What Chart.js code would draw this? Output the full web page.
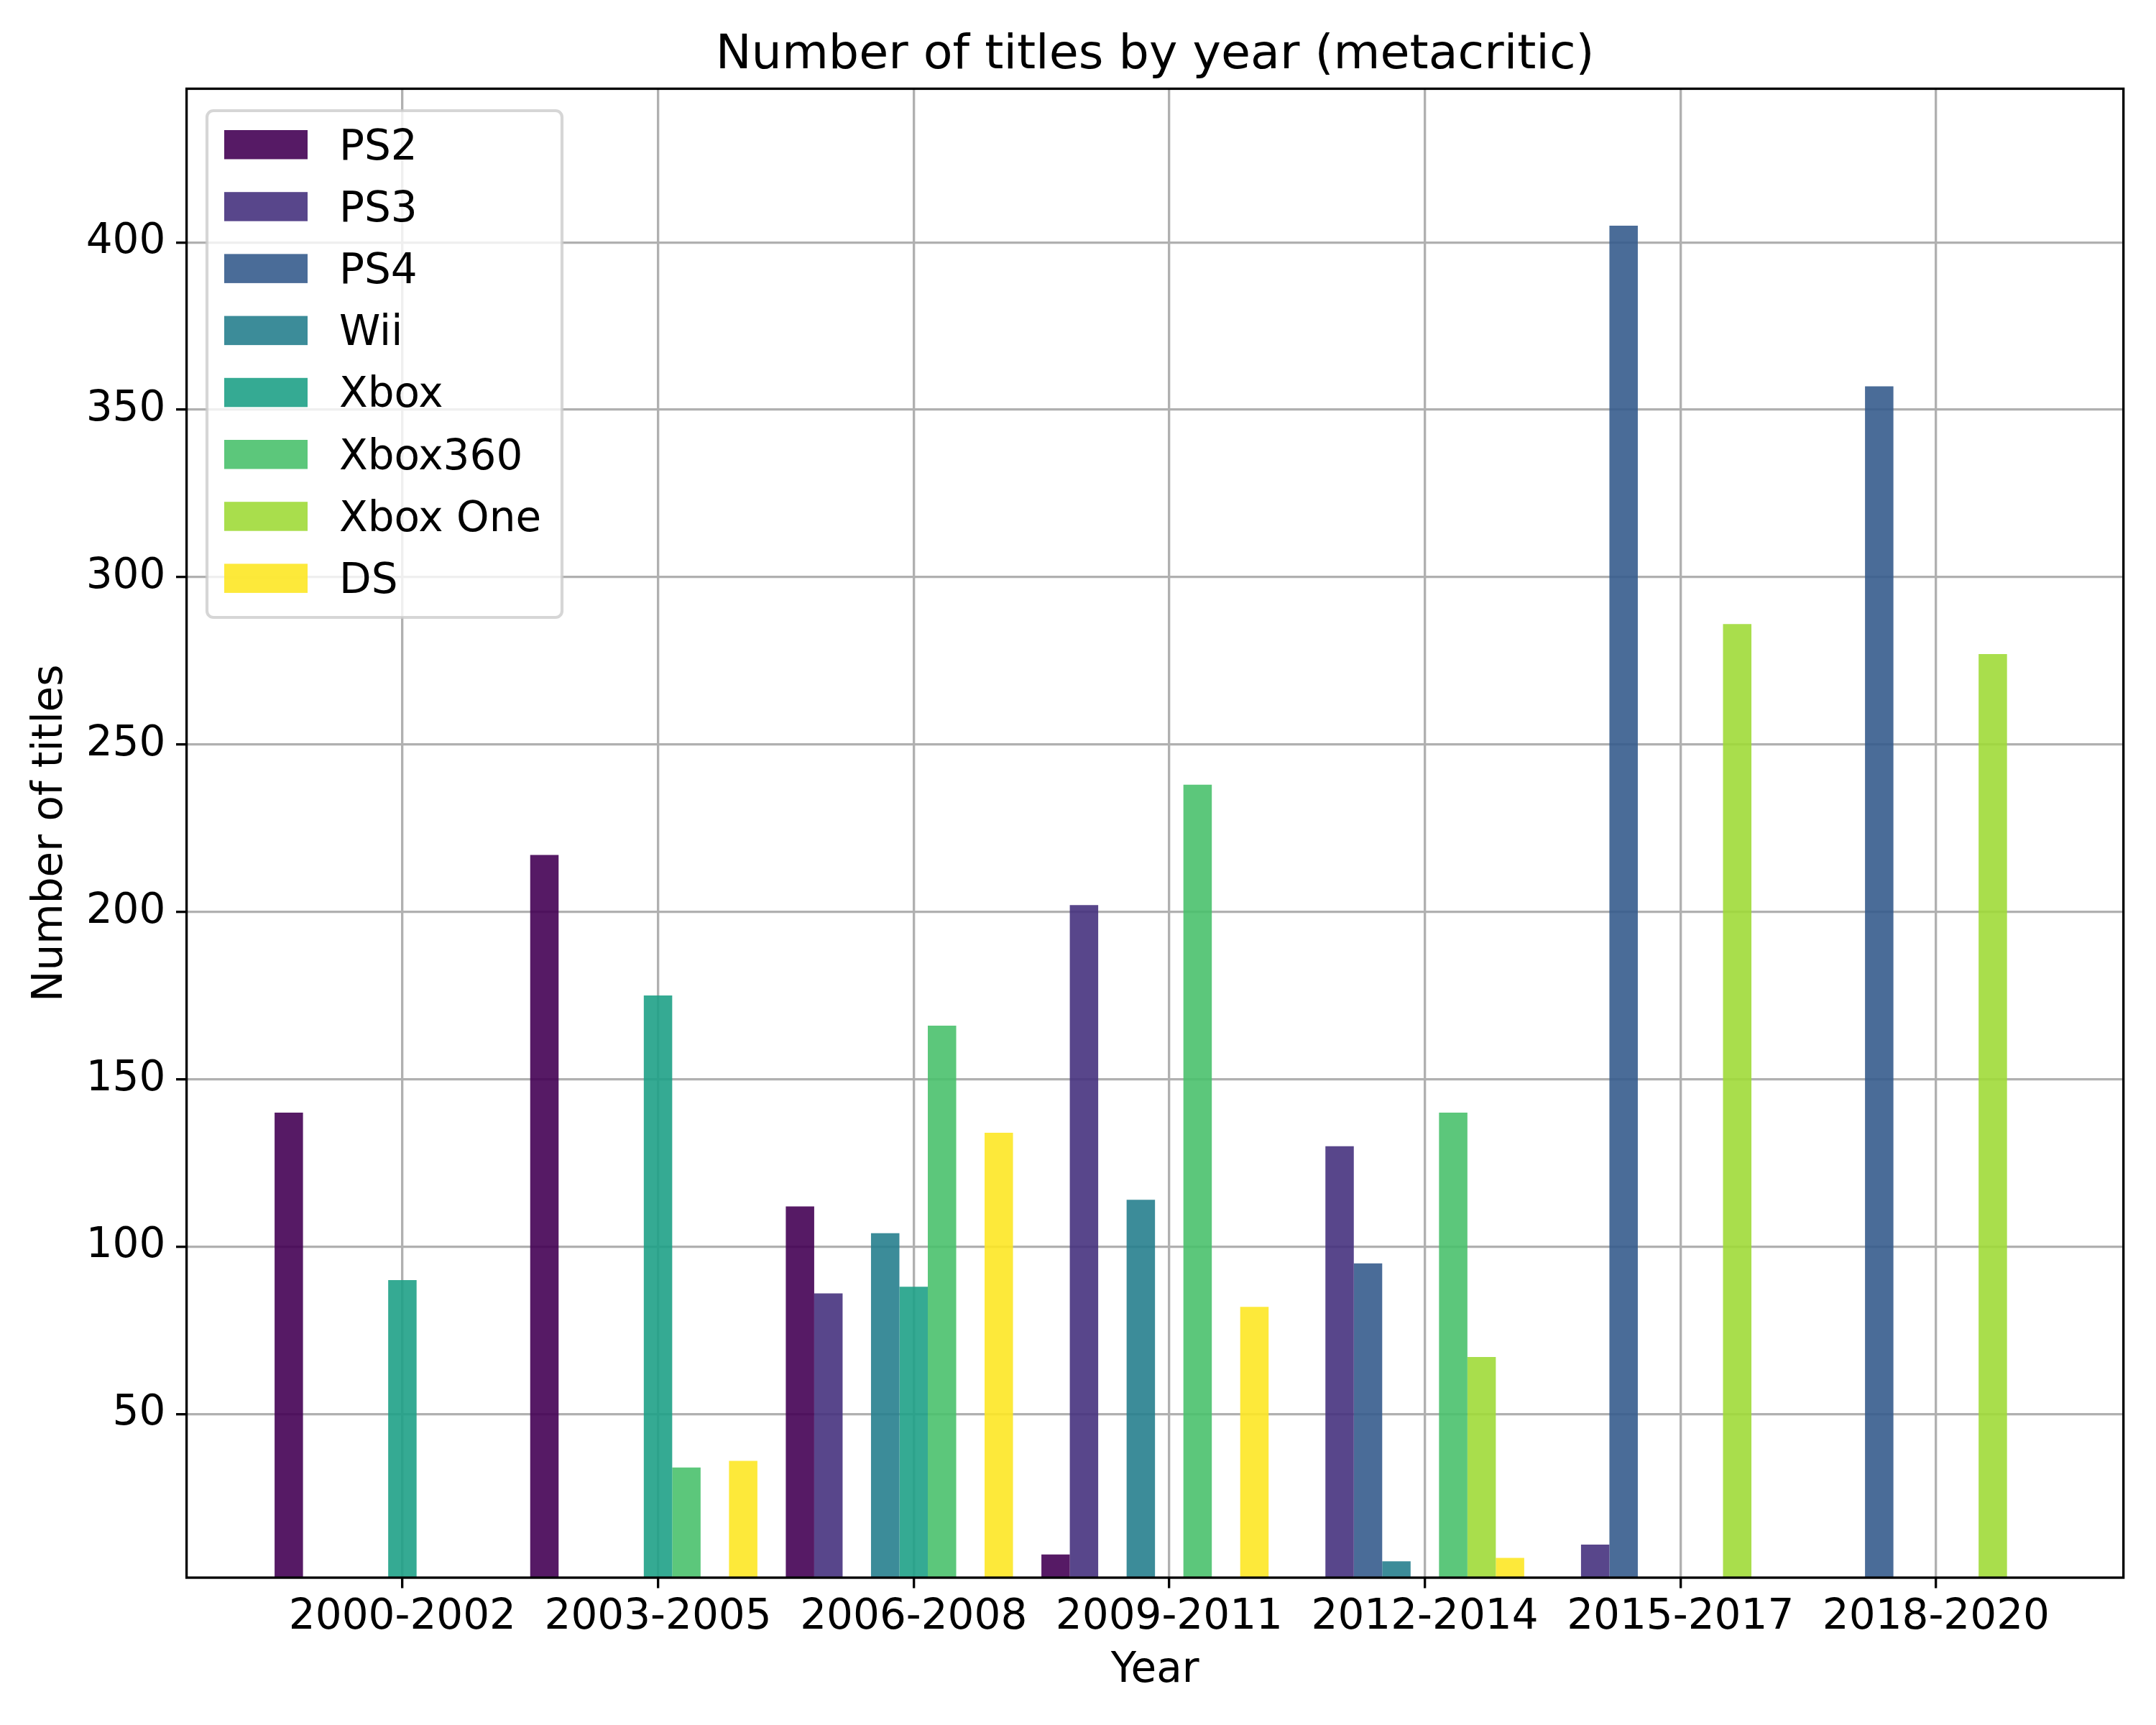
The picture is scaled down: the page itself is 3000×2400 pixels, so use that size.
<!DOCTYPE html>
<html>
<head>
<meta charset="utf-8">
<script src="https://cdn.jsdelivr.net/npm/chart.js@4/dist/chart.umd.min.js"></script>
<style>
  html, body { margin: 0; padding: 0; background: #fff; }
  #wrap { width: 3000px; height: 2400px; }
</style>
</head>
<body>
<div id="wrap"><canvas id="chart" width="3000" height="2400"></canvas></div>
<script>
// categories (3-year buckets)
const years = ['2000-2002', '2003-2005', '2006-2008', '2009-2011', '2012-2014', '2015-2017', '2018-2020'];
const yTicks = [50, 100, 150, 200, 250, 300, 350, 400];

// titles per platform, one value per bucket
const platforms = ['PS2', 'PS3', 'PS4', 'Wii', 'Xbox', 'Xbox360', 'Xbox One', 'DS'];
const ps2     = [140, 217, 112,   8,   0,   0,   0];
const ps3     = [  0,   0,  86, 202, 130,  11,   0];
const ps4     = [  0,   0,   0,   0,  95, 405, 357];
const wii     = [  0,   0, 104, 114,   6,   0,   0];
const xbox    = [ 90, 175,  88,   0,   0,   0,   0];
const xbox360 = [  0,  34, 166, 238, 140,   0,   0];
const xboxOne = [  0,   0,   0,   0,  67, 286, 277];
const ds      = [  0,  36, 134,  82,   7,   0,   0];
const series = [ps2, ps3, ps4, wii, xbox, xbox360, xboxOne, ds];

// viridis, 8 steps, drawn at alpha 0.9
const colors = [
  'rgba(68,1,84,0.9)',
  'rgba(70,50,126,0.9)',
  'rgba(54,92,141,0.9)',
  'rgba(39,127,142,0.9)',
  'rgba(31,161,135,0.9)',
  'rgba(74,193,109,0.9)',
  'rgba(160,218,57,0.9)',
  'rgba(253,231,37,0.9)'
];

const FONT = 'DejaVu Sans';
const LW = 3.33; // 0.8pt at 300dpi
// groups are 9 bar slots wide, 8 used: shift the group half a slot left
const groupShift = -0.5 / 9;

Chart.defaults.font.family = FONT;
Chart.defaults.color = '#000';

// top/right/left/bottom spines drawn over the bars
const spines = {
  id: 'spines',
  afterDatasetsDraw(chart) {
    const { ctx, chartArea: a } = chart;
    ctx.save();
    ctx.strokeStyle = '#000';
    ctx.lineWidth = LW;
    ctx.strokeRect(a.left, a.top, a.right - a.left, a.bottom - a.top);
    ctx.restore();
  }
};

// legend box in the upper left corner of the plot
const boxLegend = {
  id: 'boxLegend',
  afterDraw(chart) {
    const ctx = chart.ctx;
    ctx.save();
    ctx.beginPath();
    ctx.roundRect(288, 154, 494, 705, 9);
    ctx.fillStyle = 'rgba(255,255,255,0.8)';
    ctx.fill();
    ctx.lineWidth = 4.2;
    ctx.strokeStyle = 'rgba(204,204,204,0.8)';
    ctx.stroke();

    ctx.font = '58px "' + FONT + '"';
    ctx.textBaseline = 'alphabetic';
    ctx.textAlign = 'left';
    chart.data.datasets.forEach((d, i) => {
      const y = 181 + 86.2 * i;
      ctx.fillStyle = d.backgroundColor;
      ctx.fillRect(312, y, 116, 40.5);
      ctx.fillStyle = '#000';
      ctx.fillText(d.label, 472, y + 40.5);
    });
    ctx.restore();
  }
};

const datasets = platforms.map((name, k) => ({
  label: name,
  data: series[k].map((v, i) => ({ x: i + groupShift, y: v })),
  backgroundColor: colors[k],
  borderWidth: 0,
  categoryPercentage: 8 / 9,
  barPercentage: 1.0
}));

new Chart(document.getElementById('chart'), {
  type: 'bar',
  data: { datasets: datasets },
  options: {
    responsive: false,
    devicePixelRatio: 1,
    animation: false,
    layout: { padding: { left: 0, right: 45.3, top: 0, bottom: 0 } },
    plugins: {
      legend: { display: false },
      tooltip: { enabled: false },
      title: {
        display: true,
        fullSize: false,
        text: 'Number of titles by year (metacritic)',
        color: '#000',
        font: { size: 66.7, weight: 'normal', family: FONT },
        padding: { top: 37.7, bottom: 5.7 }
      }
    },
    scales: {
      x: {
        type: 'linear',
        min: -0.8444,
        max: 6.7333,
        offset: false,
        border: { display: false },
        grid: {
          offset: false,
          color: '#b0b0b0',
          lineWidth: LW,
          tickColor: '#000',
          tickLength: 14.6,
          tickWidth: LW
        },
        ticks: {
          font: { size: 58 },
          color: '#000',
          padding: 7,
          maxRotation: 0,
          autoSkip: false,
          callback: (v) => years[v] ?? ''
        },
        title: {
          display: true,
          text: 'Year',
          color: '#000',
          font: { size: 58 },
          padding: { top: 0, bottom: 39.8 }
        },
        afterBuildTicks: (s) => { s.ticks = years.map((_, i) => ({ value: i })); },
        afterFit: (s) => { s.height = 205; }
      },
      y: {
        type: 'linear',
        min: 1.1,
        max: 445.9,
        border: { display: false },
        grid: {
          color: '#b0b0b0',
          lineWidth: LW,
          tickColor: '#000',
          tickLength: 14.6,
          tickWidth: LW
        },
        ticks: {
          font: { size: 58 },
          color: '#000',
          padding: 14.6,
          callback: (v) => String(v)
        },
        title: {
          display: true,
          text: 'Number of titles',
          color: '#000',
          font: { size: 58 },
          padding: { top: 35.9, bottom: 0 }
        },
        afterBuildTicks: (s) => { s.ticks = yTicks.map((v) => ({ value: v })); },
        afterFit: (s) => { s.width = 259.6; }
      }
    }
  },
  plugins: [spines, boxLegend]
});
</script>
</body>
</html>
